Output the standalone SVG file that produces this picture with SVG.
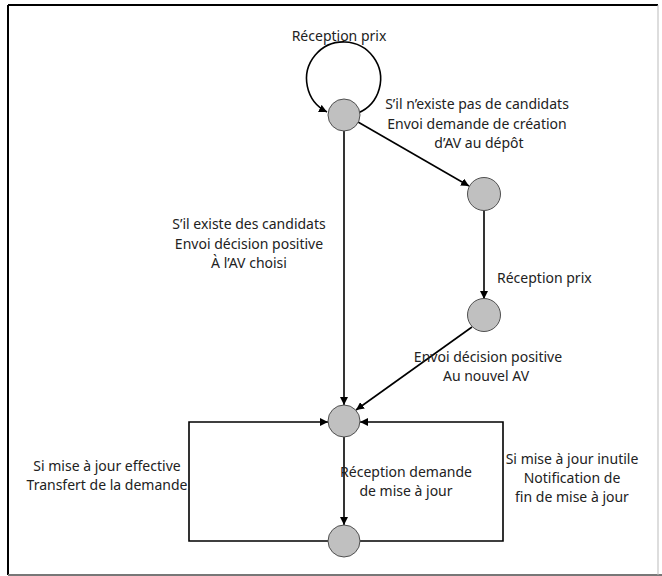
<svg xmlns="http://www.w3.org/2000/svg" width="662" height="576" viewBox="0 0 662 576">
<style>
.node{fill:#c0c0c0;stroke:#505050;stroke-width:1}
.edge{fill:none;stroke:#000;stroke-width:1.6}
text{font-family:"Noto Sans","Liberation Sans",sans-serif;font-size:14px;fill:#222}
.c{text-anchor:middle}
</style>
<defs>
<marker id="arr" viewBox="0 0 10 10" refX="10" refY="5" markerWidth="8" markerHeight="8" markerUnits="userSpaceOnUse" orient="auto">
<path d="M0,0 L10,5 L0,10 z" fill="#000"/>
</marker>
</defs>
<rect x="0" y="0" width="662" height="576" fill="#fff"/>
<g id="frame">
<line x1="8" y1="5" x2="658" y2="5" stroke="#000" stroke-width="2"/>
<line x1="8" y1="5" x2="8" y2="575" stroke="#000" stroke-width="2"/>
<line x1="8" y1="575" x2="662" y2="575" stroke="#777" stroke-width="2"/>
<line x1="658" y1="5" x2="658" y2="575" stroke="#bbb" stroke-width="1"/>
</g>
<g id="connectors">
<path class="edge" d="M358,113 A37,37 0 1 0 327,112" marker-end="url(#arr)"/>
<line class="edge" x1="344" y1="131" x2="344" y2="405" marker-end="url(#arr)"/>
<line class="edge" x1="358" y1="122" x2="469" y2="186" marker-end="url(#arr)"/>
<line class="edge" x1="484" y1="211" x2="484" y2="299" marker-end="url(#arr)"/>
<line class="edge" x1="472" y1="327" x2="356" y2="410" marker-end="url(#arr)"/>
<line class="edge" x1="344" y1="437" x2="344" y2="525" marker-end="url(#arr)"/>
<polyline class="edge" points="328,541 189,541 189,422 328,422" marker-end="url(#arr)"/>
<polyline class="edge" points="360,541 503,541 503,422 360,422" marker-end="url(#arr)"/>
</g>
<g id="n1"><circle class="node" cx="344" cy="115" r="16"/></g>
<g id="n2"><circle class="node" cx="484" cy="194" r="16.5"/></g>
<g id="n3"><circle class="node" cx="484" cy="315" r="16.5"/></g>
<g id="n4"><circle class="node" cx="344" cy="421" r="16"/></g>
<g id="n5"><circle class="node" cx="344" cy="541" r="16"/></g>
<g id="labels">
<text class="c" x="339" y="41">Réception prix</text>
<text class="c" x="477" y="109">S’il n’existe pas de candidats</text>
<text class="c" x="477" y="129">Envoi demande de création</text>
<text class="c" x="479" y="148">d’AV au dépôt</text>
<text class="c" x="249" y="229">S’il existe des candidats</text>
<text class="c" x="249" y="249">Envoi décision positive</text>
<text class="c" x="249" y="268">À l’AV choisi</text>
<text x="497" y="283">Réception prix</text>
<text class="c" x="488" y="362">Envoi décision positive</text>
<text class="c" x="486" y="381">Au nouvel AV</text>
<text class="c" x="107" y="471">Si mise à jour effective</text>
<text class="c" x="107" y="490">Transfert de la demande</text>
<text class="c" x="406" y="477">Réception demande</text>
<text class="c" x="406" y="496">de mise à jour</text>
<text class="c" x="572" y="464">Si mise à jour inutile</text>
<text class="c" x="572" y="483">Notification de</text>
<text class="c" x="572" y="502">fin de mise à jour</text>
</g>
</svg>
